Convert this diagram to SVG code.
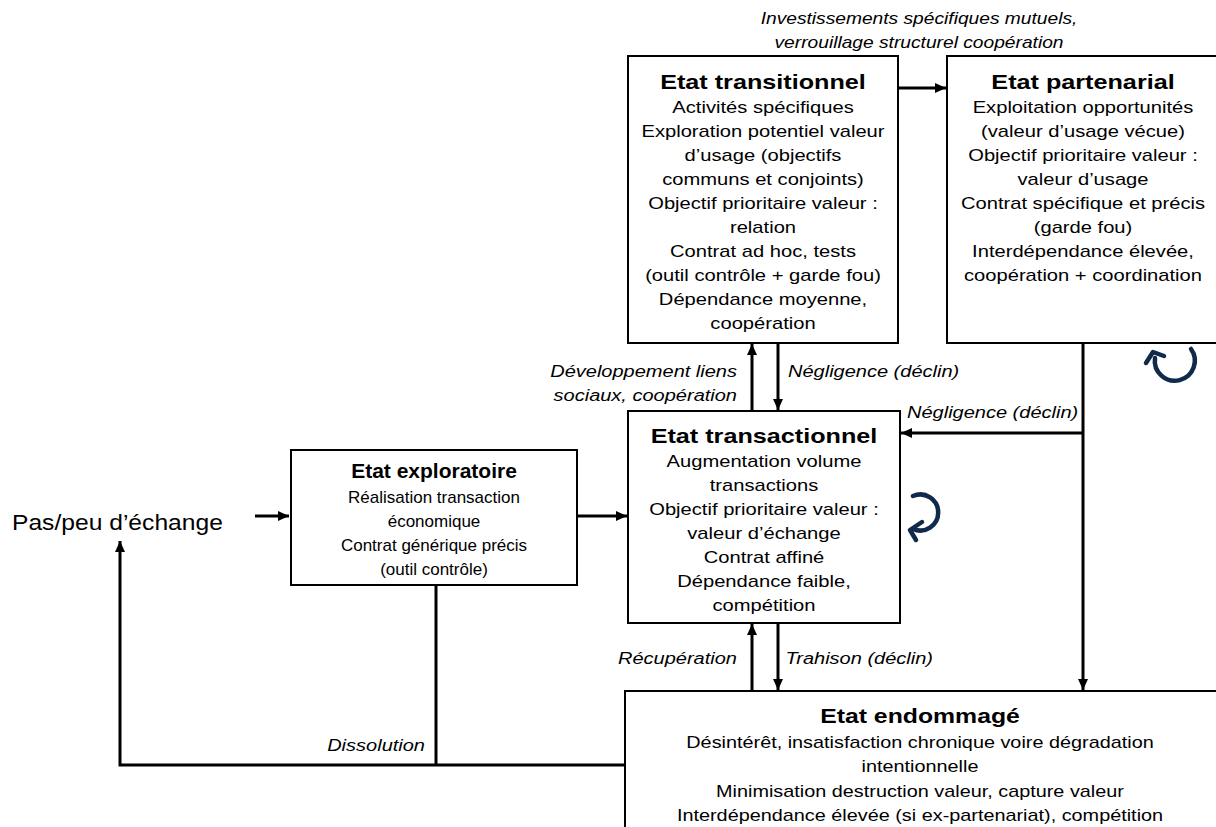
<svg xmlns="http://www.w3.org/2000/svg" width="1216" height="827" viewBox="0 0 1216 827">
<style>
.box{fill:#fff;stroke:#000;stroke-width:2}
text{font-family:"Liberation Sans",Arial,sans-serif;fill:#000}
.t{font-weight:bold;font-size:20px;text-anchor:middle}
.b{font-size:16px;text-anchor:middle}
.t.x{font-size:21px}
.b.x{font-size:17px}
.l{font-size:16px;font-style:italic}
.c{stroke:#000;stroke-width:3;fill:none}
.loop{stroke:#0f2a4a;stroke-width:4.5;fill:none;stroke-linecap:round;stroke-linejoin:round}
</style>
<defs>
<marker id="ah" markerUnits="userSpaceOnUse" markerWidth="11" markerHeight="10" refX="11" refY="5" orient="auto">
<path d="M0,0 L11,5 L0,10 z" fill="#000"/>
</marker>
</defs>
<g id="connectors">
<path class="c" d="M255,516 H289" marker-end="url(#ah)"/>
<path class="c" d="M578,516 H627" marker-end="url(#ah)"/>
<path class="c" d="M899,88 H946" marker-end="url(#ah)"/>
<path class="c" d="M752,411 V344" marker-end="url(#ah)"/>
<path class="c" d="M778,343 V410" marker-end="url(#ah)"/>
<path class="c" d="M1083,343 V690" marker-end="url(#ah)"/>
<path class="c" d="M1083,433 H901" marker-end="url(#ah)"/>
<path class="c" d="M752,691 V624" marker-end="url(#ah)"/>
<path class="c" d="M778,623 V690" marker-end="url(#ah)"/>
<path class="c" d="M436,585 V765"/>
<path class="c" d="M625,765 H120 V541" marker-end="url(#ah)"/>
<g transform="translate(919,0) scale(1.2,1)">
<text class="l" x="0" y="24" text-anchor="middle">Investissements spécifiques mutuels,</text>
<text class="l" x="0" y="48" text-anchor="middle">verrouillage structurel coopération</text>
</g>
<g transform="translate(737,0) scale(1.25,1)">
<text class="l" x="0" y="377" text-anchor="end">Développement liens</text>
<text class="l" x="0" y="401" text-anchor="end">sociaux, coopération</text>
<text class="l" x="0" y="664" text-anchor="end">Récupération</text>
</g>
<g transform="translate(788,0) scale(1.25,1)">
<text class="l" x="0" y="377">Négligence (déclin)</text>
<text class="l" x="-2" y="664">Trahison (déclin)</text>
</g>
<g transform="translate(907,0) scale(1.25,1)">
<text class="l" x="0" y="418">Négligence (déclin)</text>
</g>
<g transform="translate(425,0) scale(1.25,1)">
<text class="l" x="0" y="751" text-anchor="end">Dissolution</text>
</g>
</g>
<g id="start">
<g transform="translate(12,0) scale(1.12,1)">
<text x="0" y="530" font-size="22">Pas/peu d’échange</text>
</g>
</g>
<g id="exploratoire">
<rect class="box" x="291" y="450" width="286" height="135"/>
<text class="t x" x="434" y="478">Etat exploratoire</text>
<text class="b x" x="434" y="503">Réalisation transaction</text>
<text class="b x" x="434" y="527">économique</text>
<text class="b x" x="434" y="551">Contrat générique précis</text>
<text class="b x" x="434" y="575">(outil contrôle)</text>
</g>
<g id="transitionnel">
<rect class="box" x="628" y="56" width="270" height="287"/>
<g transform="translate(763,0) scale(1.26,1)">
<text class="t" x="0" y="89">Etat transitionnel</text>
<text class="b" x="0" y="113">Activités spécifiques</text>
<text class="b" x="0" y="137">Exploration potentiel valeur</text>
<text class="b" x="0" y="161">d’usage (objectifs</text>
<text class="b" x="0" y="185">communs et conjoints)</text>
<text class="b" x="0" y="209">Objectif prioritaire valeur :</text>
<text class="b" x="0" y="233">relation</text>
<text class="b" x="0" y="257">Contrat ad hoc, tests</text>
<text class="b" x="0" y="281">(outil contrôle + garde fou)</text>
<text class="b" x="0" y="305">Dépendance moyenne,</text>
<text class="b" x="0" y="329">coopération</text>
</g>
</g>
<g id="partenarial">
<rect class="box" x="947" y="56" width="290" height="287"/>
<g transform="translate(1083,0) scale(1.26,1)">
<text class="t" x="0" y="89">Etat partenarial</text>
<text class="b" x="0" y="113">Exploitation opportunités</text>
<text class="b" x="0" y="137">(valeur d’usage vécue)</text>
<text class="b" x="0" y="161">Objectif prioritaire valeur :</text>
<text class="b" x="0" y="185">valeur d’usage</text>
<text class="b" x="0" y="209">Contrat spécifique et précis</text>
<text class="b" x="0" y="233">(garde fou)</text>
<text class="b" x="0" y="257">Interdépendance élevée,</text>
<text class="b" x="0" y="281">coopération + coordination</text>
</g>
<path class="loop" d="M1191,349 A20,20 0 1 1 1155,358"/>
<path class="loop" d="M1146,363 L1153,352 L1164,356"/>
</g>
<g id="transactionnel">
<rect class="box" x="628" y="411" width="272" height="212"/>
<g transform="translate(764,0) scale(1.26,1)">
<text class="t" x="0" y="443">Etat transactionnel</text>
<text class="b" x="0" y="467">Augmentation volume</text>
<text class="b" x="0" y="491">transactions</text>
<text class="b" x="0" y="515">Objectif prioritaire valeur :</text>
<text class="b" x="0" y="539">valeur d’échange</text>
<text class="b" x="0" y="563">Contrat affiné</text>
<text class="b" x="0" y="587">Dépendance faible,</text>
<text class="b" x="0" y="611">compétition</text>
</g>
<path class="loop" d="M913,496 A18,18 0 1 1 913,529"/>
<path class="loop" d="M922,522 L910,530 L916,540"/>
</g>
<g id="endommage">
<rect class="box" x="625" y="691" width="620" height="160"/>
<g transform="translate(920,0) scale(1.24,1)">
<text class="t" x="0" y="723">Etat endommagé</text>
<text class="b" x="0" y="748">Désintérêt, insatisfaction chronique voire dégradation</text>
<text class="b" x="0" y="772">intentionnelle</text>
<text class="b" x="0" y="797">Minimisation destruction valeur, capture valeur</text>
<text class="b" x="0" y="821">Interdépendance élevée (si ex-partenariat), compétition</text>
</g>
</g>
</svg>
